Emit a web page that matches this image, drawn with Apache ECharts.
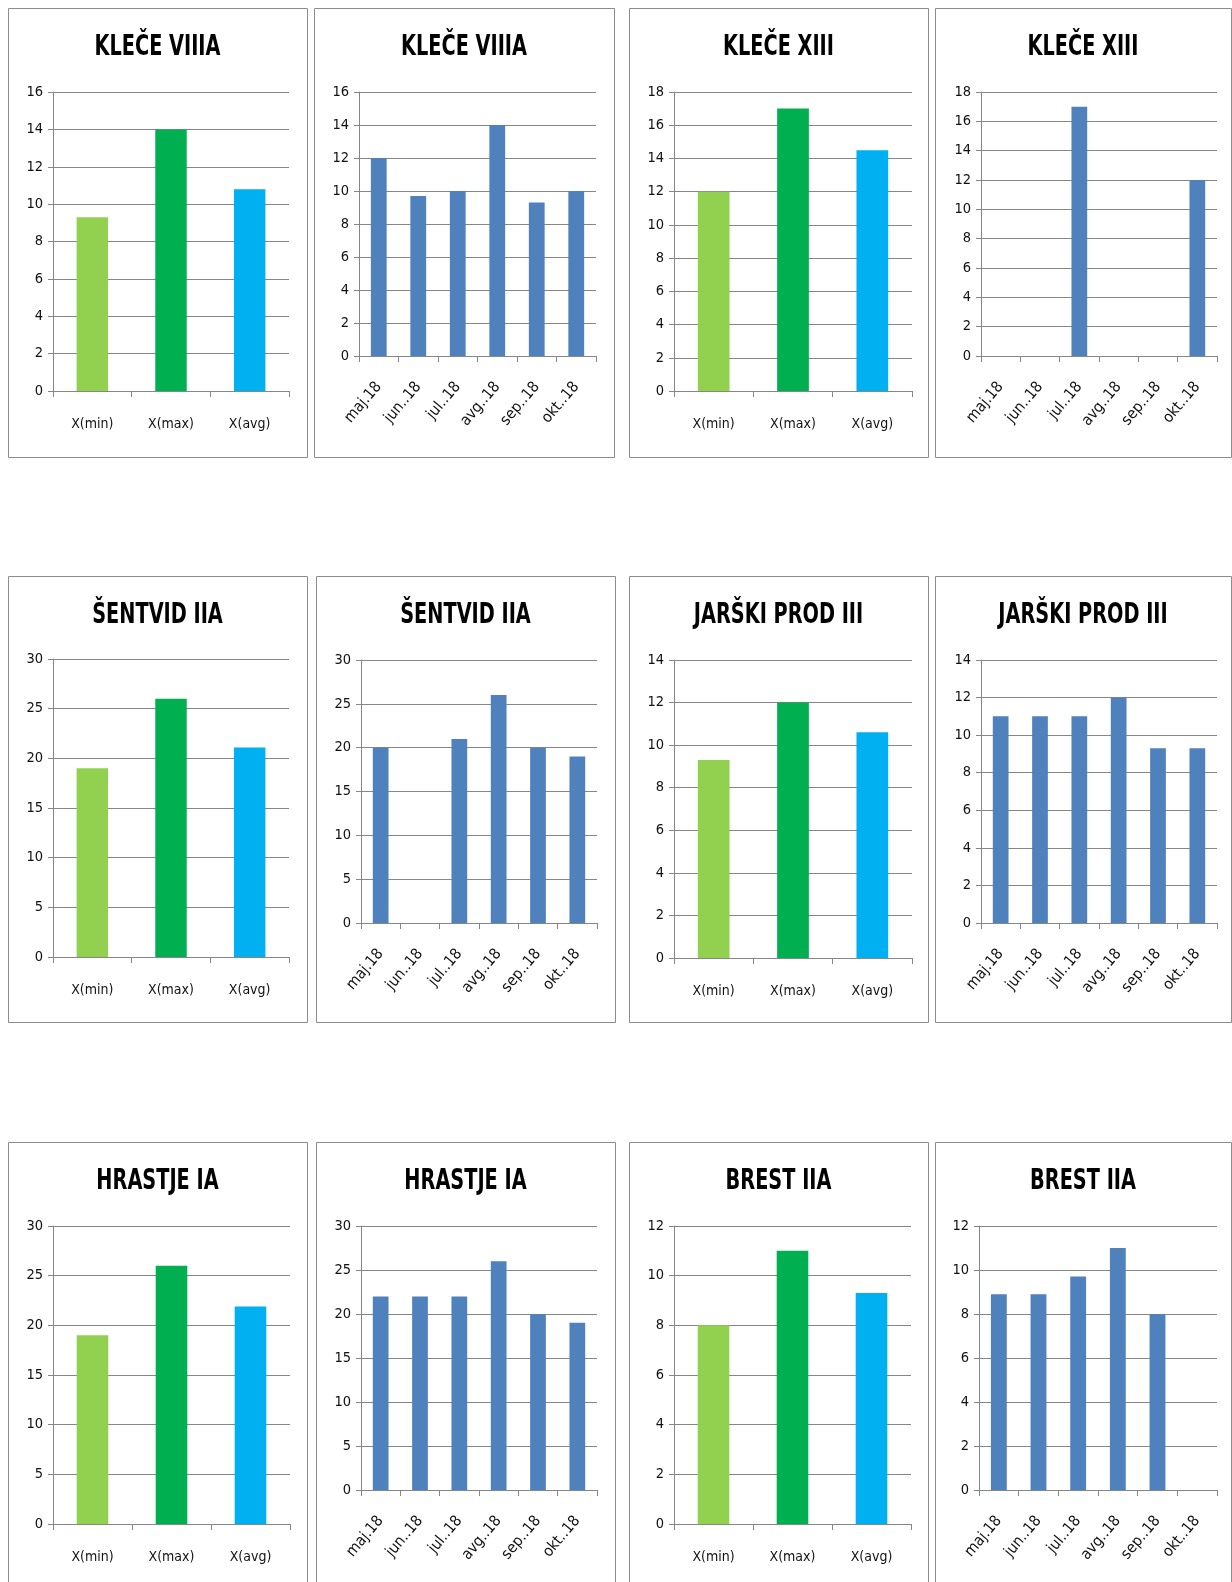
<!DOCTYPE html>
<html>
<head>
<meta charset="utf-8">
<script src="https://cdn.jsdelivr.net/npm/echarts@6/dist/echarts.min.js"></script>
<style>
  html, body { margin: 0; padding: 0; background: #ffffff; }
  #chart { width: 1232px; height: 1582px; }
</style>
</head>
<body>
<div id="chart"></div>
<script>
// ---- data ----
const statCategories = ['X(min)', 'X(max)', 'X(avg)'];
const monthCategories = ['maj.18', 'jun..18', 'jul..18', 'avg..18', 'sep..18', 'okt..18'];

const kleceVIIIAStats = [9.3, 14, 10.8];
const kleceVIIIAMonths = [12, 9.7, 10, 14, 9.3, 10];
const kleceXIIIStats = [12, 17, 14.5];
const kleceXIIIMonths = [null, null, 17, null, null, 12];
const sentvidIIAStats = [19, 26, 21.1];
const sentvidIIAMonths = [20, null, 21, 26, 20, 19];
const jarskiProdIIIStats = [9.3, 12, 10.6];
const jarskiProdIIIMonths = [11, 11, 11, 12, 9.3, 9.3];
const hrastjeIAStats = [19, 26, 21.9];
const hrastjeIAMonths = [22, 22, 22, 26, 20, 19];
const brestIIAStats = [8, 11, 9.3];
const brestIIAMonths = [8.9, 8.9, 9.7, 11, 8, null];

const titles = ['KLEČE VIIIA', 'KLEČE VIIIA', 'KLEČE XIII', 'KLEČE XIII',
                'ŠENTVID IIA', 'ŠENTVID IIA', 'JARŠKI PROD III', 'JARŠKI PROD III',
                'HRASTJE IA', 'HRASTJE IA', 'BREST IIA', 'BREST IIA'];
const yMax = [16, 16, 18, 18, 30, 30, 14, 14, 30, 30, 12, 12];
const yStep = [2, 2, 2, 2, 5, 5, 2, 2, 5, 5, 2, 2];
const panelData = [kleceVIIIAStats, kleceVIIIAMonths, kleceXIIIStats, kleceXIIIMonths,
                   sentvidIIAStats, sentvidIIAMonths, jarskiProdIIIStats, jarskiProdIIIMonths,
                   hrastjeIAStats, hrastjeIAMonths, brestIIAStats, brestIIAMonths];

// ---- layout ----
const statColors = ['#92D050', '#00B050', '#00B0F0'];
const monthColor = '#4F81BD';
const lineColor = '#868686';
const font = '"Liberation Sans Narrow", "DejaVu Sans Condensed", "Open Sans", sans-serif';

// panel boxes [x, y, w, h]
const panels = [
  [8, 8, 299, 449], [314, 8, 300, 449], [629, 8, 299, 449], [935, 8, 296, 449],
  [8, 576, 299, 446], [316, 576, 299, 446], [629, 576, 299, 446], [935, 576, 296, 446],
  [8, 1142, 299, 500], [316, 1142, 299, 500], [629, 1142, 299, 500], [935, 1142, 296, 500]
];
// plot areas [left, top, right, bottom]
const plots = [
  [53, 92, 289, 391], [359, 92, 596, 356], [674, 92, 912, 391], [981, 92, 1217, 356],
  [53, 659, 289, 957], [361, 660, 597, 923], [674, 660, 912, 958], [981, 660, 1217, 923],
  [53, 1226, 290, 1524], [361, 1226, 597, 1490], [674, 1226, 911, 1524], [979, 1226, 1217, 1490]
];

const option = {
  animation: false,
  backgroundColor: '#ffffff',
  grid: [], xAxis: [], yAxis: [], series: [],
  graphic: []
};

for (let i = 0; i < 12; i++) {
  const isStat = (i % 2 === 0);
  const p = panels[i], g = plots[i];
  option.graphic.push({
    type: 'rect', silent: true, z: -1,
    shape: { x: p[0] + 0.5, y: p[1] + 0.5, width: p[2], height: p[3] },
    style: { fill: '#ffffff', stroke: '#8c8c8c', lineWidth: 1 }
  });
  option.graphic.push({
    type: 'text', silent: true,
    x: p[0] + p[2] / 2, y: p[1] + 39, scaleX: 0.74,
    style: {
      text: titles[i], x: 0, y: 0, align: 'center', verticalAlign: 'middle',
      fontFamily: font, fontWeight: 'bold', fontSize: 29, fill: '#000000'
    }
  });
  option.grid.push({ left: g[0], top: g[1], width: g[2] - g[0], height: g[3] - g[1], containLabel: false });
  option.xAxis.push({
    type: 'category', gridIndex: i,
    data: isStat ? statCategories : monthCategories,
    boundaryGap: true,
    axisLine: { show: true, lineStyle: { color: lineColor, width: 1 } },
    axisTick: { show: true, length: 6, interval: 0, alignWithLabel: false, lineStyle: { color: lineColor } },
    axisLabel: isStat
      ? { interval: 0, margin: 26, fontFamily: font, fontSize: 14, color: '#111111' }
      : { interval: 0, rotate: 50, margin: 28, fontFamily: font, fontSize: 15.5, color: '#111111' }
  });
  option.yAxis.push({
    type: 'value', gridIndex: i, min: 0, max: yMax[i], interval: yStep[i],
    axisLine: { show: true, lineStyle: { color: lineColor, width: 1 } },
    axisTick: { show: true, length: 5, lineStyle: { color: lineColor } },
    splitLine: { show: true, lineStyle: { color: lineColor, width: 1 } },
    axisLabel: { margin: 10, fontFamily: font, fontSize: 14.5, color: '#111111' }
  });
  option.series.push({
    type: 'bar', xAxisIndex: i, yAxisIndex: i,
    data: panelData[i],
    barCategoryGap: '60%',
    itemStyle: isStat
      ? { color: function (params) { return statColors[params.dataIndex]; } }
      : { color: monthColor }
  });
}

const chart = echarts.init(document.getElementById('chart'), null, { renderer: 'canvas' });
chart.setOption(option);
</script>
</body>
</html>
